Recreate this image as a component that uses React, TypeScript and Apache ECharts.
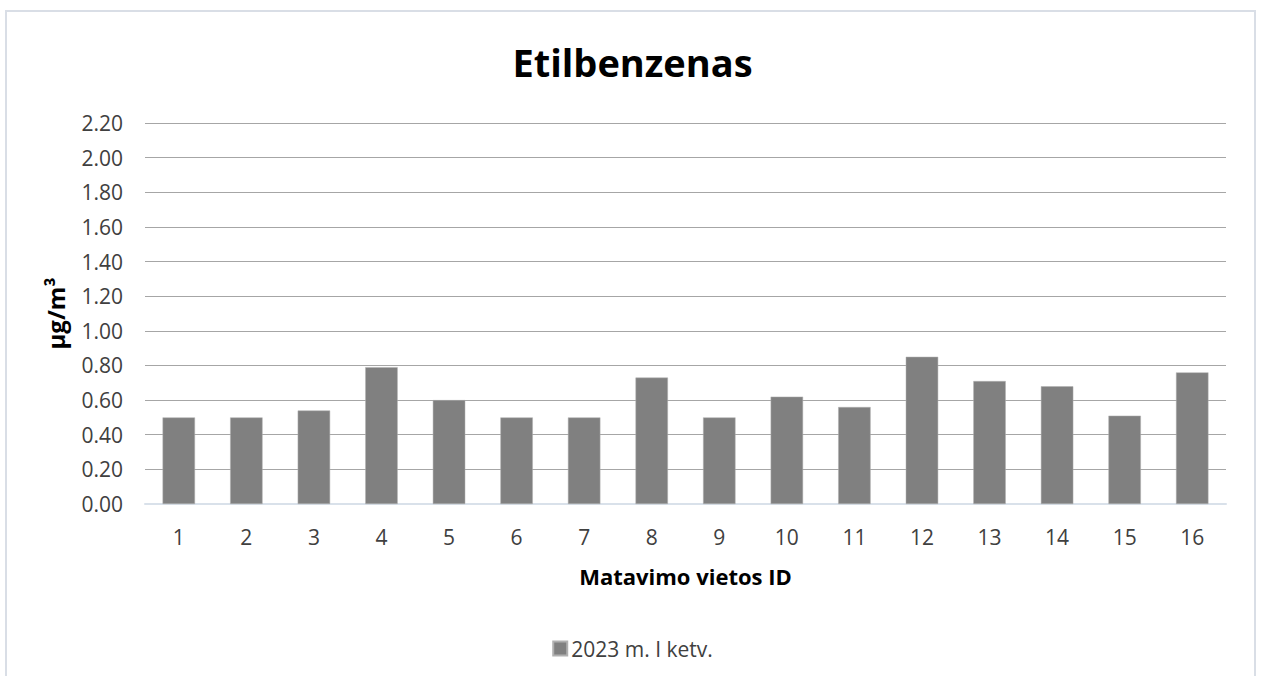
import React, { useEffect, useRef } from "react";
import * as echarts from "echarts";

const categories = ["1", "2", "3", "4", "5", "6", "7", "8", "9", "10", "11", "12", "13", "14", "15", "16"];
const values = [0.5, 0.5, 0.54, 0.79, 0.6, 0.5, 0.5, 0.73, 0.5, 0.62, 0.56, 0.85, 0.71, 0.68, 0.51, 0.76];
const seriesName = "2023 m. I ketv.";
const titleText = "Etilbenzenas";
const xAxisName = "Matavimo vietos ID";
const yAxisName = "µg/m³";

export default function App() {
  const ref = useRef<HTMLDivElement>(null);
  useEffect(() => {
    if (!ref.current) return;
    const chart = echarts.init(ref.current, undefined, { renderer: "svg" });
    const font = "'Open Sans', 'Noto Sans', sans-serif";
    chart.setOption({
      animation: false,
      backgroundColor: "#ffffff",
      textStyle: { fontFamily: font },
      title: {
        text: titleText,
        left: "center",
        top: 38,
        textStyle: { fontFamily: font, fontSize: 38, fontWeight: "bold", color: "#000000" },
      },
      graphic: [
        {
          type: "rect",
          shape: { x: 6, y: 11, width: 1249, height: 700 },
          style: { fill: "none", stroke: "#d9dee6", lineWidth: 2 },
          silent: true,
        },
      ],
      legend: {
        top: 633,
        left: "center",
        itemWidth: 14,
        itemHeight: 14,
        itemGap: 6,
        icon: "rect",
        textStyle: { fontFamily: font, fontSize: 21, color: "#404040", padding: [0, 0, 0, -1] },
        data: [seriesName],
      },
      grid: { left: 145, right: 39, top: 123, bottom: 172, containLabel: false },
      xAxis: {
        type: "category",
        data: categories,
        name: xAxisName,
        nameLocation: "middle",
        nameGap: 61,
        nameTextStyle: { fontFamily: font, fontSize: 22, fontWeight: "bold", color: "#000000" },
        axisLine: { lineStyle: { color: "#d9e1ea", width: 2 } },
        axisTick: { show: false },
        axisLabel: { fontFamily: font, fontSize: 21, color: "#404040", margin: 22 },
      },
      yAxis: {
        type: "value",
        min: 0,
        max: 2.2,
        interval: 0.2,
        name: yAxisName,
        nameLocation: "middle",
        nameGap: 78,
        nameRotate: 90,
        nameTextStyle: { fontFamily: font, fontSize: 24, fontWeight: "bold", color: "#000000" },
        axisLine: { show: false },
        axisTick: { show: false },
        axisLabel: {
          fontFamily: font,
          fontSize: 21,
          color: "#404040",
          margin: 22,
          formatter: (v: number) => v.toFixed(2),
        },
        splitLine: { lineStyle: { color: "#a6a6a6", width: 1 } },
      },
      series: [
        {
          name: seriesName,
          type: "bar",
          data: values,
          barWidth: "48%",
          itemStyle: { color: "#808080", borderColor: "#b0b0b0", borderWidth: 0.5 },
        },
      ],
    });
    return () => chart.dispose();
  }, []);
  return (
    <div
      ref={ref}
      style={{ position: "fixed", left: 0, top: 0, width: 1265, height: 676 }}
    />
  );
}
